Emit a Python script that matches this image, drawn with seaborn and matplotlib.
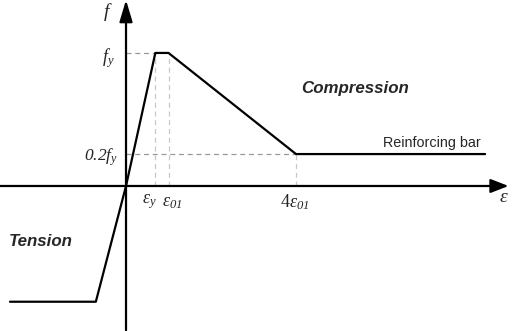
import matplotlib
matplotlib.use("Agg")
import matplotlib.pyplot as plt
import seaborn as sns
import pandas as pd

sns.set_theme(style="white")
plt.rcParams['font.family'] = ['Liberation Sans', 'DejaVu Sans']
plt.rcParams['mathtext.fontset'] = 'custom'
plt.rcParams['mathtext.rm'] = 'Liberation Serif:italic'
plt.rcParams['mathtext.it'] = 'Liberation Serif:italic'
plt.rcParams['mathtext.sf'] = 'Liberation Serif'
plt.rcParams['mathtext.bf'] = 'Liberation Serif:bold'
plt.rcParams['mathtext.fallback'] = 'stix'

# strain in units of eps01, stress in units of fy
strain = [-2.73, -0.71, 0.0, 0.69, 1.0, 4.0, 8.45]
stress = [-0.87, -0.87, 0.0, 1.0, 1.0, 0.24, 0.24]
eps_y, eps_01, eps_4 = 0.69, 1.0, 4.0
fy_level, f02_level = 1.0, 0.24
tick_labels_x = [r"$\varepsilon_y$", r"$\varepsilon_{01}$", r"$\mathsf{4}\varepsilon_{01}$"]
tick_labels_y = [r"$f_y$", r"$0.2f_y$"]

df = pd.DataFrame({"strain": strain, "stress": stress})

fig = plt.figure(figsize=(5.13, 3.31), dpi=100)
ax = fig.add_axes([0, 0, 1, 1])
ax.set_xlim(-2.965, 9.106)
ax.set_ylim(-1.090, 1.398)
ax.axis("off")

# guide lines
ax.plot([0, eps_y], [fy_level, fy_level], ls=(0, (4, 3)), color="#999999", lw=0.9)
ax.plot([0, eps_4], [f02_level, f02_level], ls=(0, (4, 3)), color="#999999", lw=0.9)
for xv, top in [(eps_y, fy_level), (eps_01, fy_level), (eps_4, f02_level)]:
    ax.plot([xv, xv], [0, top], ls=(0, (4, 3)), color="#c8c8c8", lw=0.9)

# axes with arrows
ax.annotate("", xy=(9.0, 0), xytext=(-2.965, 0),
            arrowprops=dict(arrowstyle="-|>,head_length=0.9,head_width=0.35", color="black", lw=1.6,
                            shrinkA=0, shrinkB=0))
ax.annotate("", xy=(0, 1.398), xytext=(0, -1.085),
            arrowprops=dict(arrowstyle="-|>,head_length=1.1,head_width=0.33", color="black", lw=1.6,
                            shrinkA=0, shrinkB=0))

sns.lineplot(data=df, x="strain", y="stress", sort=False, color="black", lw=1.6, ax=ax,
             estimator=None)

# labels
ax.text(-0.42, 1.31, r"$f$", fontsize=14, ha="center", va="center")
ax.text(8.9, -0.09, r"$\varepsilon$", fontsize=14, ha="center", va="center")
ax.text(-0.42, fy_level - 0.04, tick_labels_y[0], fontsize=13, ha="center", va="center")
ax.text(-0.2, f02_level - 0.02, tick_labels_y[1], fontsize=12.5, ha="right", va="center")
ax.text(0.54, -0.12, tick_labels_x[0], fontsize=13, ha="center", va="center")
ax.text(1.08, -0.125, tick_labels_x[1], fontsize=13, ha="center", va="center")
ax.text(eps_4 - 0.02, -0.12, tick_labels_x[2], fontsize=13, ha="center", va="center")

ax.text(5.4, 0.735, "Compression", fontsize=12.2, fontweight="bold", fontstyle="italic",
        ha="center", va="center")
ax.text(7.2, 0.32, "Reinforcing bar", fontsize=10.4, ha="center", va="center")
ax.text(-2.0, -0.415, "Tension", fontsize=12.2, fontweight="bold", fontstyle="italic",
        ha="center", va="center")

fig.savefig("out.png", dpi=100)
